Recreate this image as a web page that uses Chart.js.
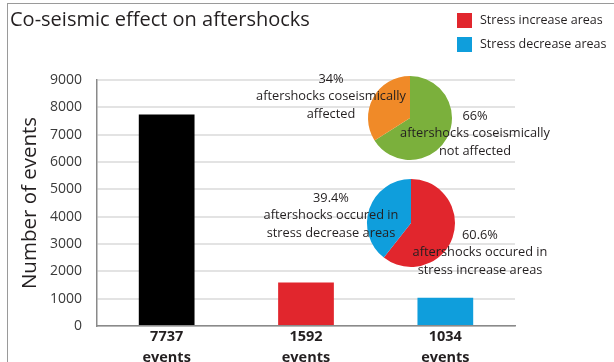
<!DOCTYPE html>
<html>
<head>
<meta charset="utf-8">
<script src="https://cdn.jsdelivr.net/npm/chart.js@4"></script>
<style>
  html, body { margin: 0; padding: 0; background: #fff; }
  #wrap { position: relative; width: 614px; height: 362px; overflow: hidden; }
  #wrap canvas { position: absolute; }
  #frame { position: absolute; left: 7px; top: 3px; right: -2px; bottom: -2px;
           border-left: 1px solid #9a9a9a; border-top: 1px solid #9a9a9a; }
</style>
</head>
<body>
<div id="wrap">
  <div id="frame"></div>
  <canvas id="bars" width="614" height="362" style="left:0;top:0"></canvas>
  <canvas id="pieTop" width="320" height="110" style="left:250px;top:63px"></canvas>
  <canvas id="pieBottom" width="320" height="110" style="left:251px;top:168px"></canvas>
</div>
<script>
// event counts per group: all aftershocks, stress increase, stress decrease
const eventCounts = [7737, 1592, 1034];
const barColors = ['#000000', '#e1262d', '#0f9edc'];

const legendLabels = ['Stress increase areas', 'Stress decrease areas'];
const legendColors = [barColors[1], barColors[2]];

// share (%) of aftershocks affected by the co-seismic change
const coseismicShares = [66, 34];
const coseismicColors = ['#7bb03c', '#f08a28'];
const coseismicText = [
  ['aftershocks coseismically', 'not affected'],
  ['aftershocks coseismically', 'affected']
];

// share (%) of aftershocks by stress change sign
const stressShares = [60.6, 39.4];
const stressColors = [barColors[1], barColors[2]];
const stressText = [
  ['aftershocks occured in', 'stress increase areas'],
  ['aftershocks occured in', 'stress decrease areas']
];

Chart.defaults.font.family = "'Open Sans', sans-serif";
Chart.defaults.color = '#231f20';

// colour key in the top right corner
const areaLegend = {
  id: 'areaLegend',
  afterDraw(chart, args, opts) {
    const ctx = chart.ctx;
    ctx.save();
    ctx.font = '12.5px "Open Sans"';
    ctx.textBaseline = 'middle';
    legendLabels.forEach((txt, i) => {
      const y = opts.y + i * opts.step;
      ctx.fillStyle = legendColors[i];
      ctx.fillRect(opts.x, y, opts.box, opts.box);
      ctx.fillStyle = '#231f20';
      ctx.fillText(txt, opts.x + opts.box + 8, y + opts.box / 2);
    });
    ctx.restore();
  }
};

// percentage + description blocks placed around each pie
const sliceLabels = {
  id: 'sliceLabels',
  afterDraw(chart, args, opts) {
    const ctx = chart.ctx;
    const arc = chart.getDatasetMeta(0).data[0];
    const ds = chart.data.datasets[0];
    ctx.save();
    ctx.font = '12.8px "Open Sans"';
    ctx.fillStyle = '#231f20';
    ctx.textAlign = 'center';
    ctx.textBaseline = 'middle';
    opts.blocks.forEach((b, i) => {
      const lines = [ds.data[i] + '%'].concat(chart.data.labels[i]);
      lines.forEach((t, j) => ctx.fillText(t, arc.x + b.dx, arc.y + b.dy + j * 17.5));
    });
    ctx.restore();
  }
};

new Chart(document.getElementById('bars'), {
  type: 'bar',
  data: {
    labels: eventCounts.map(v => [String(v), 'events']),
    datasets: [{
      data: eventCounts,
      backgroundColor: barColors,
      barPercentage: 0.8,
      categoryPercentage: 0.5
    }]
  },
  options: {
    responsive: false,
    animation: false,
    events: [],
    layout: { padding: { left: 10, right: 99, top: 0, bottom: 0 } },
    plugins: {
      legend: { display: false },
      tooltip: { enabled: false },
      title: {
        display: true,
        text: 'Co-seismic effect on aftershocks',
        align: 'start',
        color: '#231f20',
        font: { size: 20, weight: 'normal' },
        padding: { top: 8, bottom: 48 }
      },
      areaLegend: { x: 457, y: 13, step: 24, box: 15 }
    },
    scales: {
      x: {
        grid: { display: false, drawTicks: false },
        border: { color: '#8a8a8a', width: 1.5 },
        ticks: { color: '#231f20', padding: 1, maxRotation: 0,
                 font: { size: 14.5, weight: 'bold', lineHeight: 1.4 } },
        afterFit: s => { s.height = 36; }
      },
      y: {
        min: 0,
        max: 9000,
        ticks: { stepSize: 1000, padding: 15, color: '#3a3a3a', font: { size: 14 },
                 callback: v => String(v) },
        grid: { color: '#e3e3e3', lineWidth: 2, drawTicks: false },
        border: { color: '#8a8a8a', width: 1.5 },
        title: { display: true, text: 'Number of events', color: '#231f20',
                 font: { size: 20.5 }, padding: { top: 8 } },
        afterFit: s => { s.width = 87; }
      }
    }
  },
  plugins: [areaLegend]
});

function pie(id, shares, colors, text, radius, blocks) {
  return new Chart(document.getElementById(id), {
    type: 'pie',
    data: {
      labels: text,
      datasets: [{ data: shares, backgroundColor: colors, borderWidth: 0,
                   hoverOffset: 0, radius: radius }]
    },
    options: {
      responsive: false,
      animation: false,
      events: [],
      layout: { padding: 0 },
      plugins: { legend: { display: false }, tooltip: { enabled: false },
                 sliceLabels: { blocks: blocks } }
    },
    plugins: [sliceLabels]
  });
}

pie('pieTop', coseismicShares, coseismicColors, coseismicText, 42,
    [{ dx: 65, dy: -2 }, { dx: -79, dy: -39 }]);
pie('pieBottom', stressShares, stressColors, stressText, 44,
    [{ dx: 69, dy: 12 }, { dx: -80, dy: -25 }]);
</script>
</body>
</html>
